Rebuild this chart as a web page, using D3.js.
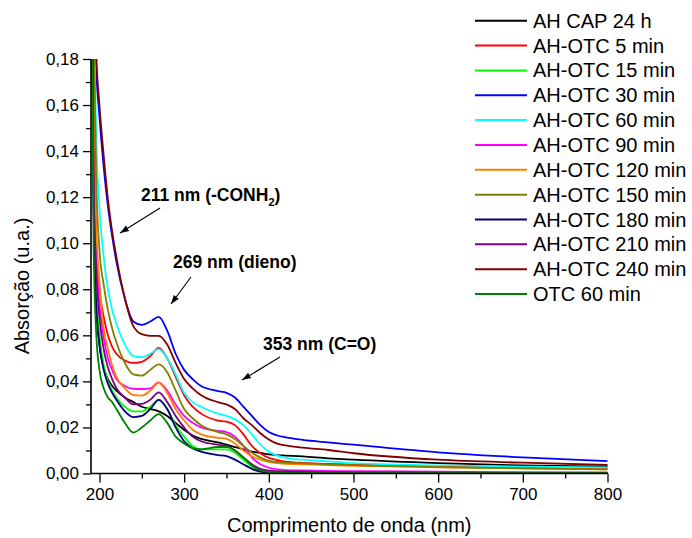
<!DOCTYPE html>
<html>
<head>
<meta charset="utf-8">
<script src="https://cdn.jsdelivr.net/npm/d3@7"></script>
<style>
  html, body { margin: 0; padding: 0; background: #fff; }
  svg { display: block; font-family: "Liberation Sans", Arial, Helvetica, sans-serif; }
</style>
</head>
<body>
<svg id="chart" width="692" height="538"></svg>
<script>
// ---- data (wavelength in nm, absorbance in u.a.) ----
const wavelengths = [190,193,196,200,205,210,215,220,230,240,250,260,270,280,290,300,310,320,340,350,360,370,380,390,400,410,420,440,470,500,600,700,800];

const seriesNames = ["AH CAP 24 h","AH-OTC 5 min","AH-OTC 15 min","AH-OTC 30 min","AH-OTC 60 min","AH-OTC 90 min","AH-OTC 120 min","AH-OTC 150 min","AH-OTC 180 min","AH-OTC 210 min","AH-OTC 240 min","OTC 60 min"];
const seriesColors = ["#000000","#ff0000","#00ff00","#0000ff","#00ffff","#ff00ff","#ff8000","#808000","#000080","#800080","#800000","#008000"];

const cap24h   = [0.28,0.12,0.075,0.056,0.046,0.041,0.038,0.036,0.033,0.031,0.029,0.028,0.027,0.025,0.022,0.019,0.0165,0.015,0.0135,0.0125,0.0115,0.0105,0.0095,0.009,0.0083,0.008,0.0078,0.0074,0.0066,0.006,0.0045,0.0035,0.003];
const otc5     = [0.35,0.16,0.10,0.080,0.068,0.060,0.055,0.052,0.049,0.048,0.0485,0.051,0.0545,0.050,0.042,0.034,0.029,0.026,0.023,0.0225,0.021,0.017,0.012,0.0088,0.0068,0.0058,0.0052,0.0046,0.0042,0.0038,0.0032,0.0027,0.0023];
const otc15    = [0.30,0.12,0.08,0.060,0.047,0.040,0.036,0.033,0.029,0.027,0.027,0.029,0.032,0.028,0.021,0.016,0.012,0.0105,0.0105,0.0105,0.009,0.006,0.003,0.0012,0.0005,0.0004,0.0003,0.0003,0.0002,0.0002,0.0001,0.0001,0.0001];
const otc30    = [0.40,0.26,0.178,0.155,0.133,0.116,0.103,0.092,0.076,0.066,0.0645,0.066,0.068,0.062,0.052,0.045,0.041,0.038,0.0358,0.035,0.033,0.029,0.025,0.021,0.018,0.0165,0.0157,0.0146,0.0135,0.0125,0.0092,0.007,0.0054];
const otc60    = [0.40,0.22,0.15,0.115,0.094,0.080,0.071,0.065,0.056,0.051,0.0505,0.052,0.054,0.050,0.043,0.035,0.031,0.029,0.026,0.025,0.0235,0.021,0.017,0.0125,0.0095,0.0078,0.0068,0.006,0.0053,0.0045,0.0035,0.003,0.0026];
const otc90    = [0.30,0.13,0.095,0.074,0.059,0.050,0.045,0.041,0.038,0.0368,0.0367,0.037,0.0396,0.036,0.030,0.025,0.022,0.020,0.0185,0.018,0.016,0.012,0.007,0.004,0.0025,0.0018,0.0015,0.0013,0.0011,0.001,0.0008,0.0006,0.0005];
const otc120   = [0.35,0.18,0.11,0.083,0.063,0.054,0.047,0.042,0.037,0.034,0.0338,0.036,0.0394,0.035,0.028,0.023,0.019,0.017,0.0155,0.015,0.013,0.010,0.0075,0.006,0.005,0.0045,0.0042,0.004,0.0036,0.0033,0.0027,0.0022,0.0018];
const otc150   = [0.35,0.20,0.13,0.097,0.082,0.071,0.063,0.057,0.048,0.043,0.0425,0.045,0.0474,0.044,0.036,0.028,0.024,0.021,0.018,0.017,0.015,0.012,0.009,0.007,0.0055,0.005,0.0047,0.0044,0.004,0.0036,0.0028,0.0022,0.0018];
const otc180   = [0.28,0.12,0.075,0.056,0.045,0.039,0.035,0.032,0.027,0.0245,0.025,0.028,0.032,0.028,0.020,0.014,0.011,0.0095,0.008,0.0075,0.006,0.004,0.002,0.0008,0.0003,0.0002,0.0002,0.0002,0.0001,0.0001,0.0001,0.0001,0.0001];
const otc210   = [0.30,0.13,0.09,0.068,0.054,0.046,0.041,0.037,0.033,0.030,0.0302,0.032,0.0352,0.031,0.025,0.020,0.016,0.014,0.0125,0.012,0.010,0.007,0.004,0.002,0.0012,0.001,0.0009,0.0008,0.0006,0.0005,0.0004,0.0003,0.0003];
const otc240   = [0.40,0.27,0.185,0.160,0.138,0.119,0.105,0.094,0.076,0.064,0.0605,0.0598,0.0598,0.056,0.048,0.041,0.037,0.034,0.031,0.030,0.028,0.024,0.021,0.0175,0.0148,0.013,0.0122,0.0112,0.0102,0.0088,0.006,0.0047,0.0037];
const otcOnly60= [0.25,0.10,0.062,0.045,0.037,0.033,0.031,0.028,0.022,0.0178,0.020,0.023,0.0258,0.022,0.016,0.013,0.011,0.0105,0.0115,0.0115,0.010,0.007,0.0035,0.0015,0.0006,0.0004,0.0003,0.0003,0.0002,0.0002,0.0001,0.0001,0.0001];

const seriesValues = [cap24h, otc5, otc15, otc30, otc60, otc90, otc120, otc150, otc180, otc210, otc240, otcOnly60];

const xTicks = [200,300,400,500,600,700,800];
const xMinorTicks = [250,350,450,550,650,750];
const yTicks = [0,0.02,0.04,0.06,0.08,0.10,0.12,0.14,0.16,0.18];
const yMinorTicks = [0.01,0.03,0.05,0.07,0.09,0.11,0.13,0.15,0.17];

const annotations = [
  {text: "211 nm (-CONH", sub: "2", tail: ")", tx: 141, ty: 201, ax1: 160, ay1: 208, ax2: 120, ay2: 233},
  {text: "269 nm (dieno)", tx: 173, ty: 268, ax1: 191, ay1: 277, ax2: 171, ay2: 304},
  {text: "353 nm (C=O)", tx: 263, ty: 350, ax1: 280, ay1: 357, ax2: 242, ay2: 380}
];

// ---- layout ----
const svg = d3.select("#chart");
const X0 = 91, X1 = 607.5, Y0 = 473.5, Y1 = 59;
const x = d3.scaleLinear().domain([190, 800]).range([X0, X1]);
const y = d3.scaleLinear().domain([0, 0.18]).range([Y0, Y1]);
const fmt = v => d3.format(".2f")(v).replace(".", ",");

svg.append("defs").append("clipPath").attr("id", "clip")
  .append("rect").attr("x", X0).attr("y", Y1).attr("width", X1 - X0 + 1).attr("height", Y0 - Y1);

const marker = svg.select("defs").append("marker")
  .attr("id", "arrow").attr("viewBox", "0 0 10 10").attr("refX", 10).attr("refY", 5)
  .attr("markerWidth", 9).attr("markerHeight", 9).attr("markerUnits", "userSpaceOnUse")
  .attr("orient", "auto");
marker.append("path").attr("d", "M0,1.5 L10,5 L0,8.5 Z").attr("fill", "#000");

// ---- lines ----
const line = d3.line()
  .x((d, i) => x(wavelengths[i]))
  .y(d => y(d))
  .curve(d3.curveMonotoneX);

const g = svg.append("g").attr("clip-path", "url(#clip)");
seriesValues.forEach((vals, k) => {
  g.append("path")
    .attr("d", line(vals))
    .attr("fill", "none")
    .attr("stroke", seriesColors[k])
    .attr("stroke-width", 1.8)
    .attr("stroke-linejoin", "round");
});

// ---- axes ----
const xAxis = svg.append("g").attr("transform", `translate(0,${Y0})`)
  .call(d3.axisBottom(x).tickValues(xTicks).tickSize(9).tickPadding(5).tickFormat(d3.format("d")));
svg.append("g").attr("transform", `translate(0,${Y0})`)
  .call(d3.axisBottom(x).tickValues(xMinorTicks).tickSize(5).tickFormat(""))
  .select(".domain").remove();
const yAxis = svg.append("g").attr("transform", `translate(${X0},0)`)
  .call(d3.axisLeft(y).tickValues(yTicks).tickSize(8).tickPadding(4).tickFormat(fmt));
svg.append("g").attr("transform", `translate(${X0},0)`)
  .call(d3.axisLeft(y).tickValues(yMinorTicks).tickSize(5).tickFormat(""))
  .select(".domain").remove();

svg.selectAll(".domain").attr("stroke", "#000").attr("stroke-width", 1.6);
svg.selectAll(".tick line").attr("stroke", "#000").attr("stroke-width", 1.3);
svg.selectAll(".tick text").attr("fill", "#000").style("font-size", "17px")
  .style("font-family", "'Liberation Sans', Arial, sans-serif");
xAxis.select(".domain").attr("d", `M${X0},0H${X1}`);
yAxis.select(".domain").attr("d", `M0,${Y0}V${Y1}`);

// ---- axis titles ----
svg.append("text").attr("x", (X0 + X1) / 2).attr("y", 532)
  .attr("text-anchor", "middle").style("font-size", "20px").text("Comprimento de onda (nm)");
svg.append("text").attr("transform", "translate(29,286) rotate(-90)")
  .attr("text-anchor", "middle").style("font-size", "20px").text("Absorção (u.a.)");

// ---- annotations ----
annotations.forEach(a => {
  const t = svg.append("text").attr("x", a.tx).attr("y", a.ty)
    .style("font-size", "17.5px").style("font-weight", "bold").text(a.text);
  if (a.sub) {
    t.append("tspan").attr("dy", 5).style("font-size", "11px").text(a.sub);
    t.append("tspan").attr("dy", -5).text(a.tail);
  }
  svg.append("line").attr("x1", a.ax1).attr("y1", a.ay1).attr("x2", a.ax2).attr("y2", a.ay2)
    .attr("stroke", "#000").attr("stroke-width", 1.1).attr("marker-end", "url(#arrow)");
});

// ---- legend ----
const legend = svg.append("g");
seriesNames.forEach((name, i) => {
  const ly = 20.7 + i * 24.85;
  legend.append("line").attr("x1", 475).attr("x2", 527).attr("y1", ly).attr("y2", ly)
    .attr("stroke", seriesColors[i]).attr("stroke-width", 2);
  legend.append("text").attr("x", 533).attr("y", ly).attr("dy", "0.35em")
    .style("font-size", "20px").text(name);
});
</script>
</body>
</html>
